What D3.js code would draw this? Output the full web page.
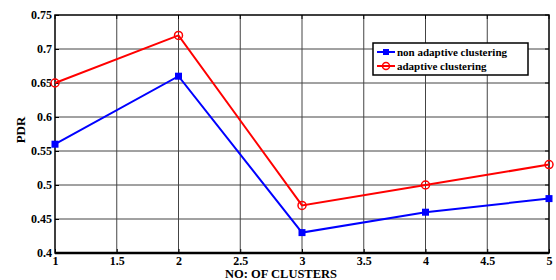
<!DOCTYPE html>
<html>
<head>
<meta charset="utf-8">
<script src="https://cdn.jsdelivr.net/npm/d3@7"></script>
<style>
body { margin: 0; background: #fff; overflow: hidden; }
svg { display: block; }
.tick text { font-family: "Liberation Serif", serif; font-weight: bold; font-size: 12px; fill: #000; }
.label { font-family: "Liberation Serif", serif; font-weight: bold; font-size: 12px; }
</style>
</head>
<body>
<svg id="chart"></svg>
<script>
let width = 556, height = 280;

let clusters = [1, 2, 3, 4, 5];
let nonAdaptive = [0.56, 0.66, 0.43, 0.46, 0.48];
let adaptive = [0.65, 0.72, 0.47, 0.50, 0.53];
let xTicks = [1, 1.5, 2, 2.5, 3, 3.5, 4, 4.5, 5];
let yTicks = [0.4, 0.45, 0.5, 0.55, 0.6, 0.65, 0.7, 0.75];

let padding = { left: 55, right: 7, top: 15, bottom: 27 };

let svg = d3.select('#chart').attr('width', width).attr('height', height);

let x = d3.scaleLinear().domain([1, 5]).range([padding.left, width - padding.right]);
let y = d3.scaleLinear().domain([0.4, 0.75]).range([height - padding.bottom, padding.top]);

// grid
svg.append('g').selectAll('line.gx')
    .data(xTicks.slice(1, -1))
    .enter().append('line')
    .attr('x1', d => x(d)).attr('x2', d => x(d))
    .attr('y1', y(0.4)).attr('y2', y(0.75))
    .attr('stroke', '#444').attr('stroke-width', 1);
svg.append('g').selectAll('line.gy')
    .data(yTicks.slice(1, -1))
    .enter().append('line')
    .attr('x1', x(1)).attr('x2', x(5))
    .attr('y1', d => y(d)).attr('y2', d => y(d))
    .attr('stroke', '#444').attr('stroke-width', 1);

// axes
let axis_x = d3.axisBottom(x).tickValues(xTicks).tickSize(-4).tickPadding(3).tickFormat(d => d);
let axis_y = d3.axisLeft(y).tickValues(yTicks).tickSize(-4).tickPadding(3).tickFormat(d => d);

let gx = svg.append('g')
    .attr('transform', `translate(0, ${y(0.4)})`)
    .call(axis_x);
let gy = svg.append('g')
    .attr('transform', `translate(${x(1)}, 0)`)
    .call(axis_y);
[gx, gy].forEach(g => {
    g.select('.domain').remove();
    g.selectAll('.tick line').attr('stroke', '#000');
});

// top/right ticks
svg.append('g').selectAll('line')
    .data(xTicks)
    .enter().append('line')
    .attr('x1', d => x(d)).attr('x2', d => x(d))
    .attr('y1', y(0.75)).attr('y2', y(0.75) + 4)
    .attr('stroke', '#000');
svg.append('g').selectAll('line')
    .data(yTicks)
    .enter().append('line')
    .attr('x1', x(5)).attr('x2', x(5) - 4)
    .attr('y1', d => y(d)).attr('y2', d => y(d))
    .attr('stroke', '#000');

// frame
svg.append('rect')
    .attr('x', x(1)).attr('y', y(0.75))
    .attr('width', x(5) - x(1)).attr('height', y(0.4) - y(0.75))
    .attr('fill', 'none').attr('stroke', '#000').attr('stroke-width', 1.5);
svg.append('line')
    .attr('x1', x(1)).attr('x2', x(5))
    .attr('y1', y(0.4)).attr('y2', y(0.4))
    .attr('stroke', '#000').attr('stroke-width', 2.5);

// lines
let line = d3.line().x((d, i) => x(clusters[i])).y(d => y(d));

svg.append('path').datum(nonAdaptive)
    .attr('d', line).attr('fill', 'none')
    .attr('stroke', '#0000ff').attr('stroke-width', 2);
svg.append('g').selectAll('rect')
    .data(nonAdaptive)
    .enter().append('rect')
    .attr('x', (d, i) => x(clusters[i]) - 3.5)
    .attr('y', d => y(d) - 3.5)
    .attr('width', 7).attr('height', 7)
    .attr('fill', '#0000ff');

svg.append('path').datum(adaptive)
    .attr('d', line).attr('fill', 'none')
    .attr('stroke', '#ff0000').attr('stroke-width', 2);
svg.append('g').selectAll('circle')
    .data(adaptive)
    .enter().append('circle')
    .attr('cx', (d, i) => x(clusters[i]))
    .attr('cy', d => y(d))
    .attr('r', 4)
    .attr('fill', 'none').attr('stroke', '#ff0000').attr('stroke-width', 1.5);

// axis labels
svg.append('text')
    .attr('class', 'label')
    .attr('x', 281).attr('y', 278)
    .attr('text-anchor', 'middle')
    .style('font-size', '12.5px')
    .text('NO: OF CLUSTERS');
svg.append('text')
    .attr('class', 'label')
    .attr('transform', `translate(25, 130) rotate(-90)`)
    .attr('text-anchor', 'middle')
    .style('font-size', '13px')
    .text('PDR');

// legend
let legend = svg.append('g').attr('transform', 'translate(373, 43)');
legend.append('rect')
    .attr('width', 155).attr('height', 32)
    .attr('fill', '#fff').attr('stroke', '#000').attr('stroke-width', 1.5);
let items = [
    { name: 'non adaptive clustering', color: '#0000ff', shape: 'square' },
    { name: 'adaptive clustering', color: '#ff0000', shape: 'circle' }
];
items.forEach((it, i) => {
    let cy = 9 + i * 14;
    legend.append('line')
        .attr('x1', 4).attr('x2', 22).attr('y1', cy).attr('y2', cy)
        .attr('stroke', it.color).attr('stroke-width', 2);
    if (it.shape == 'square') {
        legend.append('rect').attr('x', 10).attr('y', cy - 3).attr('width', 6).attr('height', 6).attr('fill', it.color);
    } else {
        legend.append('circle').attr('cx', 13).attr('cy', cy).attr('r', 3.5)
            .attr('fill', 'none').attr('stroke', it.color).attr('stroke-width', 1.5);
    }
    legend.append('text')
        .attr('class', 'label')
        .attr('x', 24).attr('y', cy + 4)
        .style('font-size', '11px')
        .text(it.name);
});
</script>
</body>
</html>
